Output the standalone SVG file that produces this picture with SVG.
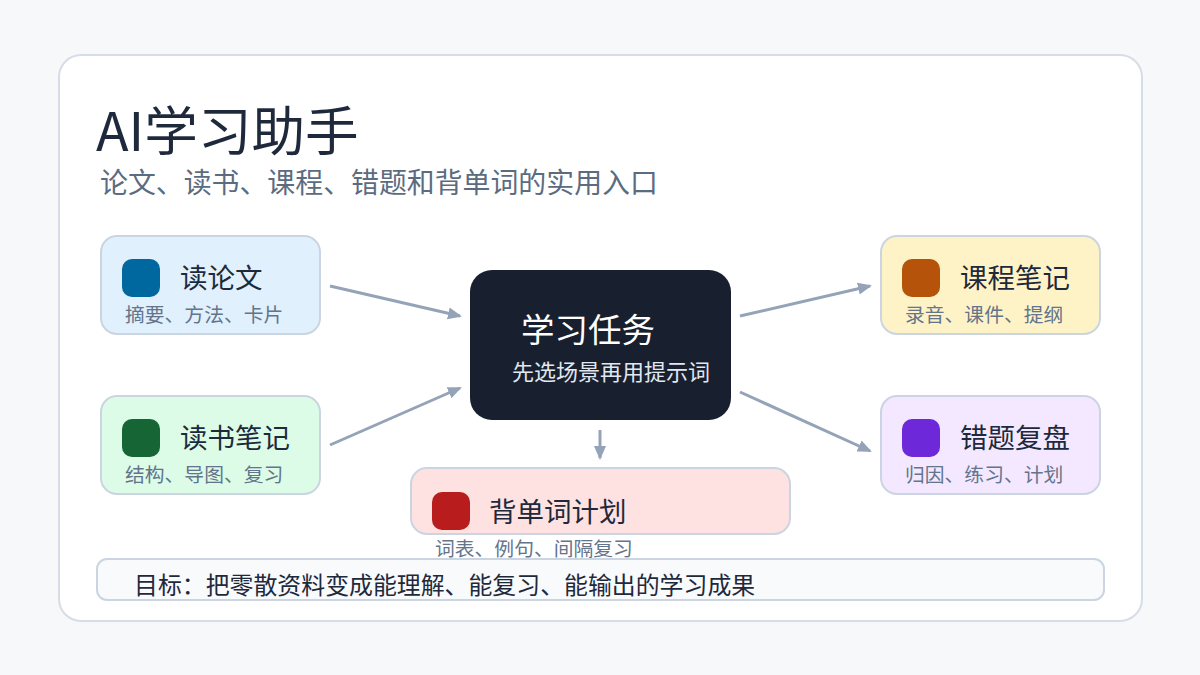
<svg xmlns="http://www.w3.org/2000/svg" width="1200" height="675" viewBox="0 0 1200 675">
<defs>
<marker id="ah" markerUnits="userSpaceOnUse" markerWidth="14" markerHeight="14" viewBox="0 0 14 14" refX="12" refY="7" orient="auto">
<path d="M0,1 L14,7 L0,13 Z" fill="#94a3b8"/>
</marker>
<style>
text{font-family:"Noto Sans CJK SC","Noto Sans",sans-serif}
.card{stroke:#cbd5e1;stroke-width:2}
.nt{font-size:27.5px;fill:#1e293b}
.ns{font-size:19.8px;fill:#64748b}
.conn{stroke:#94a3b8;stroke-width:3;fill:none;marker-end:url(#ah)}
</style>
</defs>
<rect width="1200" height="675" fill="#f7f8fa"/>
<rect x="59" y="55" width="1083" height="566" rx="22" fill="#ffffff" stroke="#d6dde6" stroke-width="2"/>
<g id="title">
<text x="96" y="151" font-size="53.6" fill="#1e293b">AI学习助手</text>
<text x="100" y="193" font-size="27.9" fill="#5b6b80">论文、读书、课程、错题和背单词的实用入口</text>
</g>
<g id="connectors">
<line class="conn" x1="330" y1="286" x2="460" y2="316"/>
<line class="conn" x1="330" y1="445" x2="460" y2="388"/>
<line class="conn" x1="740" y1="316" x2="870" y2="286"/>
<line class="conn" x1="740" y1="392" x2="870" y2="451"/>
<line class="conn" x1="600" y1="430" x2="600" y2="458"/>
</g>
<g id="paper">
<rect class="card" x="101" y="236" width="219" height="98" rx="16" fill="#e0f0fd"/>
<rect x="122" y="259" width="38" height="38" rx="10" fill="#00679f"/>
<text class="nt" x="180" y="288">读论文</text>
<text class="ns" x="125" y="322">摘要、方法、卡片</text>
</g>
<g id="book">
<rect class="card" x="101" y="396" width="219" height="98" rx="16" fill="#dcfce7"/>
<rect x="122" y="419" width="38" height="38" rx="10" fill="#166534"/>
<text class="nt" x="180" y="448">读书笔记</text>
<text class="ns" x="125" y="482">结构、导图、复习</text>
</g>
<g id="course">
<rect class="card" x="881" y="236" width="219" height="98" rx="16" fill="#fef3c7"/>
<rect x="902" y="259" width="38" height="38" rx="10" fill="#b45309"/>
<text class="nt" x="960" y="288">课程笔记</text>
<text class="ns" x="905" y="322">录音、课件、提纲</text>
</g>
<g id="mistake">
<rect class="card" x="881" y="396" width="219" height="98" rx="16" fill="#f3e8ff"/>
<rect x="902" y="419" width="38" height="38" rx="10" fill="#6d28d9"/>
<text class="nt" x="960" y="448">错题复盘</text>
<text class="ns" x="905" y="482">归因、练习、计划</text>
</g>
<g id="task">
<rect x="470" y="270" width="261" height="150" rx="22" fill="#18202f"/>
<text x="521" y="342" font-size="33.5" fill="#ffffff">学习任务</text>
<text x="512" y="380" font-size="22" fill="#e2e8f0">先选场景再用提示词</text>
</g>
<g id="vocab">
<rect class="card" x="411" y="468" width="379" height="66" rx="16" fill="#fee2e2"/>
<rect x="432" y="492" width="38" height="38" rx="10" fill="#b91c1c"/>
<text class="nt" x="489" y="522">背单词计划</text>
<text class="ns" x="435" y="556">词表、例句、间隔复习</text>
</g>
<g id="goal">
<rect x="97" y="559" width="1007" height="41" rx="10" fill="#f8fafc" stroke="#cbd5e1" stroke-width="2"/>
<text x="134" y="594" font-size="23.9" fill="#1e293b">目标：把零散资料变成能理解、能复习、能输出的学习成果</text>
</g>
</svg>
